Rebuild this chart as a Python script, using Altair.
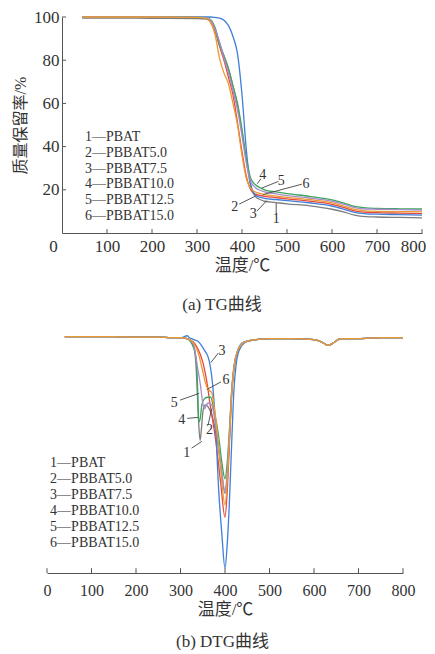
import altair as alt
import pandas as pd

FONT = "Liberation Serif, Noto Sans CJK SC"
LFONT = "Liberation Serif"
TXT = "#333333"

names = ["PBAT", "PBBAT5.0", "PBBAT7.5", "PBBAT10.0", "PBBAT12.5", "PBBAT15.0"]
colors = ["#7d7d7d", "#e8473e", "#3d7fd9", "#3ba55d", "#a98ccc", "#e99a33"]
legend_labels = ["1—PBAT", "2—PBBAT5.0", "3—PBBAT7.5", "4—PBBAT10.0", "5—PBBAT12.5", "6—PBBAT15.0"]

# ---------------- TG data (mass retention %) ----------------
tg_T = [45, 100, 200, 300, 320, 330, 340, 350, 360, 370, 380, 390, 400, 410, 420, 430, 440, 450,
        475, 500, 550, 600, 625, 650, 675, 700, 750, 800]
tg_pbat = [99.5, 99.5, 99.4, 99.3, 99.0, 98.0, 95.0, 88.0, 82.0, 76.0, 68.0, 59.0, 47.0, 33.0, 21.0, 16.8,
           15.5, 14.7, 14.1, 13.5, 12.6, 11.0, 9.8, 8.3, 7.6, 7.4, 7.2, 7.0]
tg_b50 = [100, 100, 100, 99.8, 99.5, 98.0, 93.5, 86.5, 80.0, 72.0, 64.0, 51.0, 37.6, 26.0, 19.8, 18.0,
          17.4, 17.0, 16.4, 15.8, 14.8, 13.3, 11.9, 10.2, 9.6, 9.4, 9.2, 9.0]
tg_b75 = [100, 100, 100, 100, 100, 100, 99.8, 99.5, 98.5, 96.0, 91.0, 83.0, 64.0, 37.6, 22.0, 17.5,
          16.6, 16.0, 15.5, 15.0, 14.0, 12.5, 11.1, 9.5, 8.9, 8.7, 8.5, 8.3]
tg_b100 = [100, 100, 100, 99.8, 99.6, 98.8, 95.0, 87.0, 82.0, 76.0, 68.0, 60.0, 48.0, 34.0, 25.0, 22.3,
           21.0, 20.0, 19.0, 18.2, 17.0, 15.3, 14.0, 12.3, 11.6, 11.4, 11.2, 11.1]
tg_b125 = [100, 100, 100, 99.8, 99.6, 98.5, 94.5, 88.5, 81.0, 74.0, 66.0, 57.0, 45.0, 32.0, 23.5, 21.0,
           19.8, 19.0, 18.1, 17.3, 16.2, 14.7, 13.4, 11.8, 11.1, 11.0, 10.8, 10.6]
tg_b150 = [100, 100, 100, 99.8, 99.4, 97.5, 92.0, 81.0, 74.0, 69.0, 60.0, 50.0, 36.0, 25.0, 20.5, 19.0,
           18.3, 17.8, 17.1, 16.5, 15.5, 14.0, 12.6, 10.9, 10.2, 10.0, 9.9, 9.8]
tg_series = [tg_pbat, tg_b50, tg_b75, tg_b100, tg_b125, tg_b150]

# ---------------- DTG data ----------------
head_T = [40, 100, 150, 200, 250, 280]
head_d = [0.01, 0.01, 0.01, 0.005, 0.005, 0.0]
tail_T = [470, 500, 550, 600, 615, 632, 645, 660, 700, 750, 800]
tail_d = [-0.02, -0.01, -0.01, -0.02, -0.04, -0.08, -0.05, -0.01, -0.01, 0.0, 0.0]

dtg_T_pbat = [300, 320, 330, 335, 338, 341, 344, 347, 351, 356, 362, 370, 380, 390, 400, 405, 410, 415, 420, 428, 440, 455]
dtg_pbat = [0, -0.02, -0.1, -0.3, -0.6, -0.9, -1.07, -0.95, -0.75, -0.7, -0.72, -0.8, -1.0, -1.3, -1.62, -1.45, -1.05, -0.58, -0.32, -0.15, -0.06, -0.03]
dtg_T_b50 = [300, 320, 330, 336, 345, 351, 356, 361, 366, 372, 380, 390, 400, 405, 410, 415, 420, 428, 440, 455]
dtg_b50 = [0, -0.02, -0.05, -0.09, -0.18, -0.27, -0.38, -0.51, -0.68, -0.85, -1.1, -1.5, -1.87, -1.6, -1.1, -0.6, -0.33, -0.15, -0.06, -0.03]
dtg_T_b75 = [300, 315, 320, 325, 330, 340, 347, 355, 362, 367, 372, 378, 386, 393, 400, 405, 410, 415, 420, 425, 432, 445, 458]
dtg_b75 = [0, 0.02, 0.0, -0.01, -0.02, -0.04, -0.08, -0.14, -0.2, -0.3, -0.48, -0.85, -1.6, -2.05, -2.40, -2.15, -1.7, -1.1, -0.55, -0.28, -0.13, -0.05, -0.03]
dtg_T_b100 = [300, 315, 325, 333, 337, 339, 341, 344, 348, 353, 360, 368, 375, 385, 393, 400, 405, 410, 415, 420, 428, 440, 455]
dtg_b100 = [0, -0.01, -0.06, -0.16, -0.35, -0.6, -0.88, -0.85, -0.7, -0.64, -0.62, -0.62, -0.75, -1.0, -1.3, -1.47, -1.3, -0.95, -0.55, -0.3, -0.14, -0.05, -0.03]
dtg_T_b125 = [300, 320, 330, 338, 345, 350, 354, 358, 363, 370, 380, 390, 400, 405, 410, 415, 420, 428, 440, 455]
dtg_b125 = [0, -0.02, -0.08, -0.3, -0.5, -0.68, -0.74, -0.7, -0.68, -0.7, -0.95, -1.3, -1.59, -1.4, -1.0, -0.56, -0.31, -0.14, -0.05, -0.03]
dtg_T_b150 = [300, 320, 330, 340, 346, 351, 356, 360, 365, 370, 375, 382, 390, 400, 405, 410, 415, 420, 428, 440, 455]
dtg_b150 = [0, -0.02, -0.06, -0.16, -0.27, -0.37, -0.47, -0.52, -0.55, -0.57, -0.7, -0.95, -1.35, -1.74, -1.5, -1.05, -0.58, -0.32, -0.14, -0.06, -0.03]
dtg_Ts = [dtg_T_pbat, dtg_T_b50, dtg_T_b75, dtg_T_b100, dtg_T_b125, dtg_T_b150]
dtg_series = [dtg_pbat, dtg_b50, dtg_b75, dtg_b100, dtg_b125, dtg_b150]

# ---------------- annotations ----------------
tg_lab_text = ["1", "2", "3", "4", "5", "6"]
tg_lab_T = [476, 384, 425, 446, 487, 542]
tg_lab_v = [6.3, 12.1, 8.6, 26.9, 24.3, 22.6]
tg_lead_T1 = [476, 394, 433, 442, 481, 533]
tg_lead_v1 = [8.6, 13.4, 10.1, 25.1, 23.9, 22.6]
tg_lead_T2 = [476, 429, 455, 434, 444, 447]
tg_lead_v2 = [13.9, 17.0, 15.0, 22.8, 20.8, 17.8]

dtg_lab_text = ["1", "2", "3", "4", "5", "6"]
dtg_lab_T = [314, 365, 393, 303, 286, 402]
dtg_lab_d = [-1.2, -0.96, -0.135, -0.86, -0.68, -0.44]
dtg_lead_T1 = [325, 362, 385, 315, 299, 391]
dtg_lead_d1 = [-1.15, -0.91, -0.16, -0.84, -0.65, -0.46]
dtg_lead_T2 = [348, 370, 368, 340, 342, 359]
dtg_lead_d2 = [-1.08, -0.74, -0.26, -0.83, -0.58, -0.54]

tg_xticks = [100, 200, 300, 400, 500, 600, 700, 800]
tg_yticks = [20, 40, 60, 80, 100]
dtg_xticks = [0, 100, 200, 300, 400, 500, 600, 700, 800]
x_labels = [0, 100, 200, 300, 400, 500, 600, 700, 800]

# ---------------- build tables ----------------
tg_rows = []
for n, vals in zip(names, tg_series):
    for t, v in zip(tg_T, vals):
        tg_rows.append({"series": n, "T": t, "v": v})
tg_df = pd.DataFrame(tg_rows)

dtg_rows = []
for n, ts, vals in zip(names, dtg_Ts, dtg_series):
    for t, v in zip(head_T + ts + tail_T, head_d + vals + tail_d):
        dtg_rows.append({"series": n, "T": t, "v": v})
dtg_df = pd.DataFrame(dtg_rows)

color_scale = alt.Scale(domain=names, range=colors)

# ---------------- TG chart ----------------
tg_xs = alt.Scale(domain=[0, 800], nice=False, zero=False)
tg_ys = alt.Scale(domain=[0, 100], nice=False)
tg_xaxis = alt.Axis(values=x_labels, ticks=False, grid=False, title="温度/℃", labelPadding=5,
                    titlePadding=3, labelFontSize=17, titleFontSize=17, labelFont=LFONT, titleFont=FONT,
                    labelOverlap=False, labelFlush=False,
                    labelOffset={"condition": [{"test": "datum.value == 0", "value": -9},
                                               {"test": "datum.value == 800", "value": -9}], "value": 0})
tg_yaxis = alt.Axis(values=tg_yticks, ticks=False, grid=False, title="质量保留率/%", labelPadding=3,
                    titlePadding=5, labelFontSize=17, titleFontSize=16, labelFont=LFONT, titleFont=FONT,
                    labelOverlap=False, labelFlush=False)

tg_lines = alt.Chart(tg_df).mark_line(strokeWidth=1.3, interpolate="monotone").encode(
    x=alt.X("T:Q", scale=tg_xs, axis=tg_xaxis),
    y=alt.Y("v:Q", scale=tg_ys, axis=tg_yaxis),
    color=alt.Color("series:N", scale=color_scale, legend=None),
    detail="series:N",
)

tg_xt = pd.DataFrame({"T": tg_xticks, "a": [0] * len(tg_xticks), "b": [1.8] * len(tg_xticks)})
tg_xtick_layer = alt.Chart(tg_xt).mark_rule(color="#555", strokeWidth=1).encode(
    x=alt.X("T:Q", scale=tg_xs, axis=tg_xaxis), y=alt.Y("a:Q", scale=tg_ys, axis=tg_yaxis), y2="b:Q")
tg_yt = pd.DataFrame({"v": tg_yticks, "a": [0] * len(tg_yticks), "b": [9] * len(tg_yticks)})
tg_ytick_layer = alt.Chart(tg_yt).mark_rule(color="#555", strokeWidth=1).encode(
    y=alt.Y("v:Q", scale=tg_ys, axis=tg_yaxis), x=alt.X("a:Q", scale=tg_xs, axis=tg_xaxis), x2="b:Q")

tg_leg = pd.DataFrame({"lab": legend_labels, "T": [51] * 6, "v": [44.5 - 7.34 * i for i in range(6)]})
tg_leg_layer = alt.Chart(tg_leg).mark_text(align="left", baseline="middle", font=FONT, fontSize=14, color=TXT).encode(
    x=alt.X("T:Q", scale=tg_xs, axis=tg_xaxis), y=alt.Y("v:Q", scale=tg_ys, axis=tg_yaxis), text="lab:N")

tg_lead = pd.DataFrame({"T1": tg_lead_T1, "v1": tg_lead_v1, "T2": tg_lead_T2, "v2": tg_lead_v2})
tg_lead_layer = alt.Chart(tg_lead).mark_rule(color="#444", strokeWidth=0.9).encode(
    x=alt.X("T1:Q", scale=tg_xs, axis=tg_xaxis), y=alt.Y("v1:Q", scale=tg_ys, axis=tg_yaxis), x2="T2:Q", y2="v2:Q")
tg_lab = pd.DataFrame({"t": tg_lab_text, "T": tg_lab_T, "v": tg_lab_v})
tg_lab_layer = alt.Chart(tg_lab).mark_text(font=FONT, fontSize=14, color=TXT, baseline="middle").encode(
    x=alt.X("T:Q", scale=tg_xs, axis=tg_xaxis), y=alt.Y("v:Q", scale=tg_ys, axis=tg_yaxis), text="t:N")

tg_chart = alt.layer(tg_lines, tg_xtick_layer, tg_ytick_layer, tg_leg_layer, tg_lead_layer, tg_lab_layer).properties(
    width=360, height=216,
    title=alt.TitleParams("(a) TG曲线", orient="bottom", anchor="middle", offset=24, dx=-20,
                          fontSize=17, font=FONT, fontWeight="normal", color=TXT),
)

# ---------------- DTG chart ----------------
dtg_xs = alt.Scale(domain=[0, 800], nice=False, zero=False, range=[-15, 341])
dtg_ys = alt.Scale(domain=[-2.45, 0.08], nice=False, zero=False)
dtg_xaxis = alt.Axis(values=x_labels, ticks=False, grid=False, title="温度/℃", labelPadding=9,
                     titlePadding=3, labelFontSize=16, titleFontSize=17, labelFont=LFONT, titleFont=FONT,
                     labelOverlap=False, labelFlush=False)

dtg_lines = alt.Chart(dtg_df).mark_line(strokeWidth=1.3, interpolate="monotone").encode(
    x=alt.X("T:Q", scale=dtg_xs, axis=dtg_xaxis),
    y=alt.Y("v:Q", scale=dtg_ys, axis=None),
    color=alt.Color("series:N", scale=color_scale, legend=None),
    detail="series:N",
)
dtg_xt = pd.DataFrame({"T": dtg_xticks, "a": [-2.45] * len(dtg_xticks), "b": [-2.40] * len(dtg_xticks)})
dtg_xtick_layer = alt.Chart(dtg_xt).mark_rule(color="#555", strokeWidth=1).encode(
    x=alt.X("T:Q", scale=dtg_xs, axis=dtg_xaxis), y=alt.Y("a:Q", scale=dtg_ys, axis=None), y2="b:Q")

dtg_leg = pd.DataFrame({"lab": legend_labels, "T": [7] * 6, "v": [-1.305 - 0.1667 * i for i in range(6)]})
dtg_leg_layer = alt.Chart(dtg_leg).mark_text(align="left", baseline="middle", font=FONT, fontSize=14, color=TXT).encode(
    x=alt.X("T:Q", scale=dtg_xs, axis=dtg_xaxis), y=alt.Y("v:Q", scale=dtg_ys, axis=None), text="lab:N")

dtg_lead = pd.DataFrame({"T1": dtg_lead_T1, "v1": dtg_lead_d1, "T2": dtg_lead_T2, "v2": dtg_lead_d2})
dtg_lead_layer = alt.Chart(dtg_lead).mark_rule(color="#444", strokeWidth=0.9).encode(
    x=alt.X("T1:Q", scale=dtg_xs, axis=dtg_xaxis), y=alt.Y("v1:Q", scale=dtg_ys, axis=None), x2="T2:Q", y2="v2:Q")
dtg_lab = pd.DataFrame({"t": dtg_lab_text, "T": dtg_lab_T, "v": dtg_lab_d})
dtg_lab_layer = alt.Chart(dtg_lab).mark_text(font=FONT, fontSize=14, color=TXT, baseline="middle").encode(
    x=alt.X("T:Q", scale=dtg_xs, axis=dtg_xaxis), y=alt.Y("v:Q", scale=dtg_ys, axis=None), text="t:N")

dtg_chart = alt.layer(dtg_lines, dtg_xtick_layer, dtg_leg_layer, dtg_lead_layer, dtg_lab_layer).properties(
    width=341, height=243,
    title=alt.TitleParams("(b) DTG曲线", orient="bottom", anchor="middle", offset=17, dx=-10,
                          fontSize=17, font=FONT, fontWeight="normal", color=TXT),
)

chart = alt.vconcat(tg_chart, dtg_chart, spacing=17).properties(
    padding={"left": 4, "top": 0, "right": 0, "bottom": 0}
).configure_view(stroke=None).configure_axis(
    labelColor=TXT, titleColor=TXT, titleFontWeight="normal",
    domainColor="#555", domainWidth=1,
).configure_axisX(labelAngle=0)

chart.save("out.html", embed_options={"renderer": "svg", "actions": False})
